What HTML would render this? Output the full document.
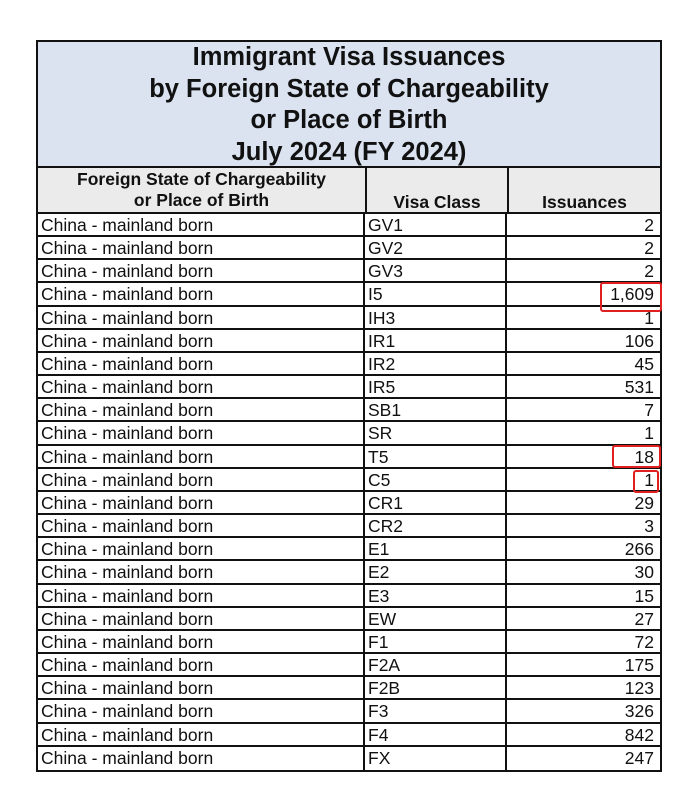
<!DOCTYPE html>
<html><head><meta charset="utf-8"><style>
body{margin:0;width:700px;height:812px;background:#fff;position:relative;font-family:"Liberation Sans",Arial,sans-serif;overflow:hidden}
.t{position:absolute;left:36px;top:40px;width:626px;height:732px;border:2px solid #111;box-sizing:border-box}
.title{position:absolute;left:0;top:0;right:0;height:126px;background:#dbe3f1;border-bottom:2px solid #111;text-align:center;font-weight:bold;font-size:25.5px;line-height:31.5px;color:#111;padding-top:0px;box-sizing:border-box}
.hdr{position:absolute;left:0;top:126px;right:0;height:46px;background:#ebebeb;border-bottom:2px solid #111;font-weight:bold;font-size:17.5px;color:#111;box-sizing:border-box}
.hdr div{position:absolute;top:0;bottom:0;text-align:center;box-sizing:border-box}
.body{position:absolute;left:0;top:172px;right:0;bottom:0;display:grid;grid-template-columns:327px 142px 1fr;grid-template-rows:repeat(24,1fr)}
.body div{border-bottom:2px solid #111;font-size:17.5px;line-height:21px;color:#111;padding:1px 3px 0;white-space:nowrap;overflow:hidden}
.body div:nth-child(3n+1),.body div:nth-child(3n+2){border-right:2px solid #111}
.body div:nth-child(3n){text-align:right;padding-right:6px}
.body div:nth-last-child(-n+3){border-bottom:none}
.r{position:absolute;border:2.5px solid #e02020;border-radius:3px;box-sizing:border-box}
</style></head><body>
<div class="t">
<div class="title">Immigrant Visa Issuances<br>by Foreign State of Chargeability<br>or Place of Birth<br>July 2024 (FY 2024)</div>
<div class="hdr">
<div style="left:0;width:329px;border-right:2px solid #111;line-height:21px;padding-top:1px">Foreign State of Chargeability<br>or Place of Birth</div>
<div style="left:329px;width:142px;border-right:2px solid #111;line-height:20px;padding-top:24px">Visa Class</div>
<div style="left:471px;right:0;line-height:20px;padding-top:24px">Issuances</div>
</div>
<div class="body">
<div>China - mainland born</div><div>GV1</div><div>2</div>
<div>China - mainland born</div><div>GV2</div><div>2</div>
<div>China - mainland born</div><div>GV3</div><div>2</div>
<div>China - mainland born</div><div>I5</div><div>1,609</div>
<div>China - mainland born</div><div>IH3</div><div>1</div>
<div>China - mainland born</div><div>IR1</div><div>106</div>
<div>China - mainland born</div><div>IR2</div><div>45</div>
<div>China - mainland born</div><div>IR5</div><div>531</div>
<div>China - mainland born</div><div>SB1</div><div>7</div>
<div>China - mainland born</div><div>SR</div><div>1</div>
<div>China - mainland born</div><div>T5</div><div>18</div>
<div>China - mainland born</div><div>C5</div><div>1</div>
<div>China - mainland born</div><div>CR1</div><div>29</div>
<div>China - mainland born</div><div>CR2</div><div>3</div>
<div>China - mainland born</div><div>E1</div><div>266</div>
<div>China - mainland born</div><div>E2</div><div>30</div>
<div>China - mainland born</div><div>E3</div><div>15</div>
<div>China - mainland born</div><div>EW</div><div>27</div>
<div>China - mainland born</div><div>F1</div><div>72</div>
<div>China - mainland born</div><div>F2A</div><div>175</div>
<div>China - mainland born</div><div>F2B</div><div>123</div>
<div>China - mainland born</div><div>F3</div><div>326</div>
<div>China - mainland born</div><div>F4</div><div>842</div>
<div>China - mainland born</div><div>FX</div><div>247</div>
</div>
</div>
<div class="r" style="left:600px;top:282px;width:62px;height:30px"></div>
<div class="r" style="left:612px;top:445px;width:49px;height:23px"></div>
<div class="r" style="left:633px;top:470px;width:26px;height:23px"></div>
</body></html>
